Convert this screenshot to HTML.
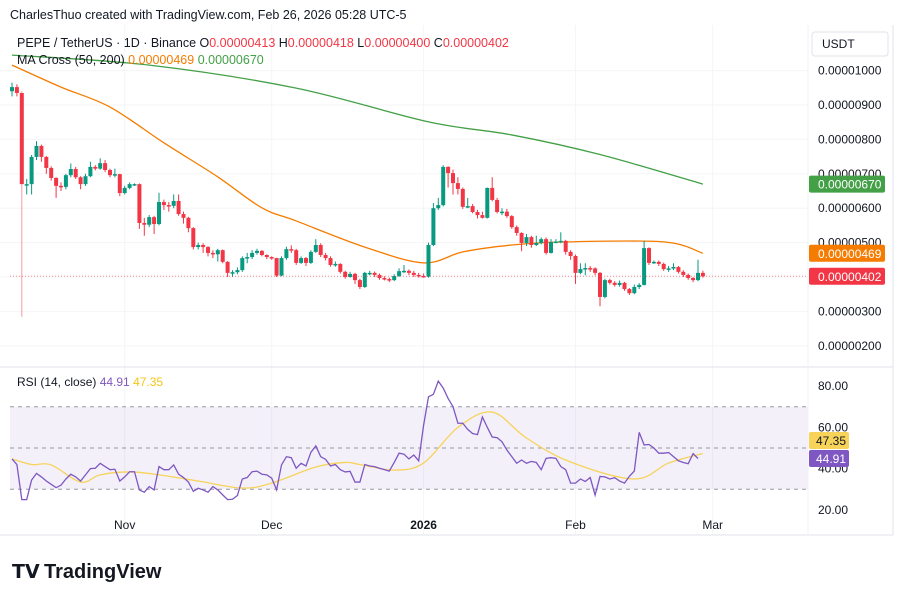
<!DOCTYPE html>
<html><head><meta charset="utf-8"><style>
html,body{margin:0;padding:0;background:#fff;}
body{width:904px;height:600px;overflow:hidden;font-family:"Liberation Sans",sans-serif;}
svg text{font-family:"Liberation Sans",sans-serif;}
</style></head><body>
<svg id="chart" width="904" height="600" viewBox="0 0 904 600" xmlns="http://www.w3.org/2000/svg">
<rect x="0" y="0" width="904" height="600" fill="#ffffff"/>
<text x="10" y="19" font-size="12.5" fill="#131722">CharlesThuo created with TradingView.com, Feb 26, 2026 05:28 UTC-5</text>
<g id="grid"></g>
<rect x="10" y="407" width="798" height="82" fill="#7e57c2" fill-opacity="0.09"/>
<g id="rsiGuides"></g>
<g id="mas"></g>
<g id="candles"></g>
<g id="rsi"></g>
<line x1="10" y1="276.3" x2="808" y2="276.3" stroke="#f23645" stroke-width="1" stroke-dasharray="1 2" opacity="0.6"/>
<line x1="0" y1="367" x2="893" y2="367" stroke="#e0e3eb"/>
<line x1="0" y1="535" x2="893" y2="535" stroke="#e0e3eb"/>
<line x1="808" y1="25" x2="808" y2="535" stroke="#eef0f3"/>
<line x1="893" y1="25" x2="893" y2="535" stroke="#e0e3eb"/>
<g id="yaxis"></g>
<g id="raxis"></g>
<g id="xaxis"></g>
<g>
<text x="17" y="47" font-size="12.5" fill="#131722">PEPE / TetherUS · 1D · Binance <tspan>O</tspan><tspan fill="#f23645">0.00000413</tspan> H<tspan fill="#f23645">0.00000418</tspan> L<tspan fill="#f23645">0.00000400</tspan> C<tspan fill="#f23645">0.00000402</tspan></text>
<text x="17" y="64" font-size="12.5" fill="#131722">MA Cross (50, 200) <tspan fill="#f57c00">0.00000469</tspan> <tspan fill="#43a047">0.00000670</tspan></text>
<text x="17" y="386" font-size="12" fill="#131722">RSI (14, close) <tspan fill="#7e57c2">44.91</tspan> <tspan fill="#f5c518">47.35</tspan></text>
</g>
<g>
<rect x="812" y="32" width="76" height="24" rx="3" fill="#fff" stroke="#e0e3eb"/>
<text x="822" y="48" font-size="12" fill="#131722">USDT</text>
</g>
<g>
<text x="12" y="578" font-size="19" font-weight="bold" fill="#131722">𝗧𝗩</text>
<text x="44" y="578" font-size="20" font-weight="bold" fill="#131722">TradingView</text>
</g>
</svg>
<script>
const closes=[952,935,670,670,749,781,749,717,688,665,662,696,714,690,670,693,720,715,731,711,696,699,644,659,670,670,557,552,574,554,618,609,607,621,583,572,542,487,493,487,470,466,478,444,412,414,420,455,458,470,476,464,458,455,404,455,481,478,441,455,441,473,493,464,455,435,438,415,400,409,391,371,412,412,406,397,394,391,403,417,418,412,406,403,401,493,600,609,720,702,673,656,604,606,589,580,572,659,624,589,590,577,545,528,499,516,493,499,510,470,502,503,505,473,461,412,423,426,425,412,342,391,383,377,383,365,353,371,377,484,441,444,438,423,425,429,415,406,397,391,412,402];
const highs=[965,960,940,685,755,795,785,752,722,690,675,700,730,720,693,700,735,725,745,740,715,715,700,665,675,672,672,572,580,578,645,625,618,640,640,590,575,545,500,498,490,478,482,480,446,420,428,460,470,478,482,478,466,460,456,460,488,492,482,460,458,478,510,498,470,460,445,440,418,415,412,395,415,418,416,410,402,398,408,425,435,422,418,412,410,500,615,630,725,722,712,690,660,630,612,595,590,660,690,630,600,598,580,550,530,525,520,520,515,515,510,510,530,508,478,465,440,440,432,428,415,395,395,388,390,386,368,378,382,505,486,448,448,442,432,440,432,420,410,400,450,418];
const lows=[925,925,284,640,640,740,735,700,680,630,650,655,690,685,655,665,690,710,712,705,690,690,635,640,655,665,540,520,545,525,550,595,590,600,578,555,530,480,480,470,460,455,445,440,400,400,408,415,440,452,465,460,452,450,400,402,450,470,435,438,432,438,470,458,448,430,430,410,395,398,380,365,368,405,400,392,390,385,388,400,412,405,400,398,398,398,490,595,605,660,640,640,598,600,585,570,570,570,620,585,580,572,540,520,475,490,485,490,495,465,468,498,498,465,450,380,408,405,415,405,315,338,378,372,372,360,348,350,365,375,435,438,432,418,415,420,410,400,392,385,388,398];
const firstOpen=940;
const ma50Idx=[0,10,20,31,42,51,58,72,84,92,102,113,133,141];
const ma50Val=[1016,952,894,790,691,601,563,487,441,473,493,502,502,469];
const ma200Idx=[0,28,58,85,102,120,141];
const ma200Val=[1045,1016,949,851,813,756,670];
const rsiVals=[44.7,42,25,25,34.5,37.7,36,34,32.4,30.8,32,35,37.3,36,34,37,40,40.2,42.6,41,39.5,39.7,34,36,38.5,38.5,29.7,28.6,31.3,29.7,41,39.5,39.5,41.8,37.3,35.7,33.5,29,30.5,29.7,28.6,31.3,29.7,27.3,25,25.2,27,35,35.7,38.5,38.8,37.3,37,35.4,29.7,41.8,45.8,45.3,40.2,42.6,41.3,47.9,51,45.8,44.5,41.3,42,39.5,38.4,38.7,33.5,33.5,42,41.3,41,40.2,39.5,38.8,43,47.5,47,44.7,46.6,43.8,61,74.8,76,82.4,79,74,70,62,62,59,57,56.5,65,60,55.3,55,53,49,45.8,42.6,44.2,42.6,43.5,43,39.5,45,45.3,45,41,39.5,33,33,35,33.8,35.7,27.2,36.2,36,35,35.6,34,33,36.3,38.8,57.6,51.5,51.7,50,47.5,47.5,47.8,45.8,43.8,43,42.4,47.3,44.91];
const rsiMaIdx=[0,4,8,14,18,24,30,38,47,53,62,68,71,78,84,91,98,105,114,127,134,141];
const rsiMaVal=[44.7,42,41.8,33.5,37,38.4,37,34,30.6,33,40.8,43,42,39.3,42.7,60,67.4,54.8,43.2,35,42.7,47.35];
const priceTicks=[1000,900,800,700,600,500,400,300,200];
const rsiTicks=[80,60,40,20];
const monthLabels=['Nov','Dec','2026','Feb','Mar'];
const monthIdx=[23,53,84,115,143];

const NS='http://www.w3.org/2000/svg';
const X=i=>12+4.9*i;
const Y=p=>277-(p-400)*0.344;
const RY=v=>448-(v-50)*2.065;
function mk(tag,attrs,parent){const e=document.createElementNS(NS,tag);for(const k in attrs)e.setAttribute(k,attrs[k]);parent.appendChild(e);return e;}
const grid=document.getElementById('grid');
priceTicks.forEach(p=>{const l=mk('line',{x1:0,x2:808,y1:Y(p),y2:Y(p),stroke:'#f4f5f7'},grid);

});
monthIdx.forEach(i=>{const l=mk('line',{x1:X(i),x2:X(i),y1:25,y2:535,stroke:'#f4f5f7'},grid);

});
const rg=document.getElementById('rsiGuides');
[70,50,30].forEach(v=>{const l=mk('line',{x1:10,x2:808,y1:RY(v),y2:RY(v),stroke:'#9598a1','stroke-dasharray':'4 4','stroke-width':1},rg);

});
function smooth(idx,val,yf){let pts=idx.map((i,k)=>[X(i),yf(val[k])]);let d='M'+pts[0][0]+','+pts[0][1];
for(let k=0;k<pts.length-1;k++){const p0=pts[k-1]||pts[k],p1=pts[k],p2=pts[k+1],p3=pts[k+2]||p2;
d+=' C'+(p1[0]+(p2[0]-p0[0])/6)+','+(p1[1]+(p2[1]-p0[1])/6)+' '+(p2[0]-(p3[0]-p1[0])/6)+','+(p2[1]-(p3[1]-p1[1])/6)+' '+p2[0]+','+p2[1];}return d;}
const mas=document.getElementById('mas');
const m200=mk('path',{d:smooth(ma200Idx,ma200Val,Y),fill:'none',stroke:'#43a047','stroke-width':1.3},mas);


const m50=mk('path',{d:smooth(ma50Idx,ma50Val,Y),fill:'none',stroke:'#f57c00','stroke-width':1.3},mas);


const cg=document.getElementById('candles');
closes.forEach((c,i)=>{const o=i===0?firstOpen:closes[i-1];const up=c>=o;const col=up?'#089981':'#f23645';
const w=mk('line',{x1:X(i),x2:X(i),y1:Y(highs[i]),y2:Y(lows[i]),stroke:col,'stroke-width':1,opacity:(i===2?0.5:1)},cg);


const t=Math.min(Y(o),Y(c)),h=Math.max(1.5,Math.abs(Y(o)-Y(c)));
const b=mk('rect',{x:X(i)-2,y:t,width:4,height:h,fill:col},cg);

});
const rs=document.getElementById('rsi');
const rm=mk('path',{d:smooth(rsiMaIdx,rsiMaVal,RY),fill:'none',stroke:'#f7d35a','stroke-width':1.3},rs);


const rl=mk('polyline',{points:rsiVals.map((v,i)=>X(i)+','+RY(v)).join(' '),fill:'none',stroke:'#7e57c2','stroke-width':1.3},rs);


const ya=document.getElementById('yaxis');
priceTicks.forEach(p=>{const t=mk('text',{x:818,y:Y(p)+4,'font-size':12,fill:'#131722'},ya);t.textContent=(p*1e-8).toFixed(8);

});
function badge(parent,y,val,bg,fg,name){const g=mk('g',{},parent);


mk('rect',{x:809,y:y-8.5,width:76,height:17,rx:2,fill:bg},g);const t=mk('text',{x:818,y:y+4.5,'font-size':12,fill:fg},g);t.textContent=val;}
badge(ya,Y(670),'0.00000670','#43a047','#fff','ma200-badge');
badge(ya,Y(469),'0.00000469','#f57c00','#fff','ma50-badge');
badge(ya,Y(402),'0.00000402','#f23645','#fff','last-price-badge');
const ra=document.getElementById('raxis');
rsiTicks.forEach(v=>{const t=mk('text',{x:818,y:RY(v)+4,'font-size':12,fill:'#131722'},ra);t.textContent=v.toFixed(2);

});
(function(){const g=mk('g',{},ra);


mk('rect',{x:809,y:432,width:40,height:17,rx:2,fill:'#f7d35a'},g);const t=mk('text',{x:816,y:445,'font-size':12,fill:'#131722'},g);t.textContent='47.35';
const g2=mk('g',{},ra);


mk('rect',{x:809,y:450,width:40,height:17,rx:2,fill:'#7e57c2'},g2);const t2=mk('text',{x:816,y:463,'font-size':12,fill:'#fff'},g2);t2.textContent='44.91';})();
const xa=document.getElementById('xaxis');
monthLabels.forEach((m,k)=>{const t=mk('text',{x:X(monthIdx[k]),y:529,'font-size':12,fill:'#131722','text-anchor':'middle','font-weight':(m==='2026'?'bold':'normal')},xa);t.textContent=m;

});
</script>
</body></html>
